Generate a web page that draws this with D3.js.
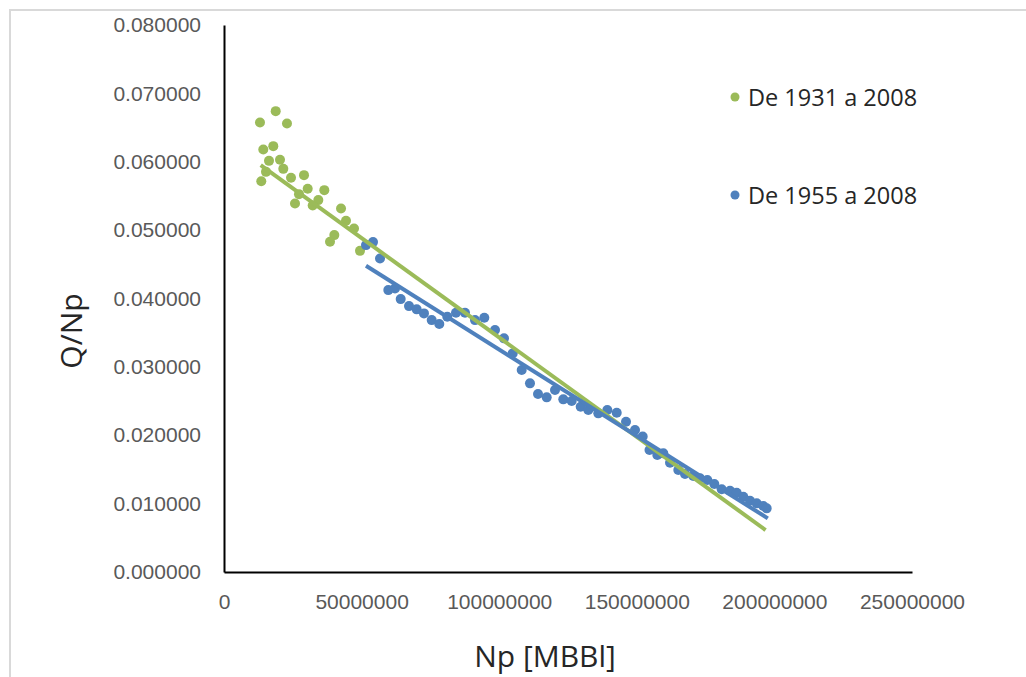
<!DOCTYPE html>
<html>
<head>
<meta charset="utf-8">
<script src="https://cdn.jsdelivr.net/npm/d3@7"></script>
<style>
  html, body { margin: 0; padding: 0; background: #fff; }
  svg { display: block; font-family: "Open Sans", "Liberation Sans", sans-serif; }
  .tick-label { fill: #595959; font-size: 21px; }
  .axis-title { fill: #262626; font-size: 30px; }
  .legend-label { fill: #262626; font-size: 23.5px; }
</style>
</head>
<body>
<svg id="chart" width="1026" height="677"></svg>
<script>
// Series 1931-2008 (visible green points): [Np, Q/Np]
const green1931 = [
  [13.08e6, 0.06575], [18.79e6, 0.06740], [22.89e6, 0.06560], [14.28e6, 0.06180],
  [17.91e6, 0.06228], [16.35e6, 0.06013], [20.35e6, 0.06028], [21.55e6, 0.05896],
  [15.26e6, 0.05852], [13.55e6, 0.05716], [24.35e6, 0.05765], [29.07e6, 0.05804],
  [30.41e6, 0.05604], [36.45e6, 0.05585], [27.25e6, 0.05526], [25.80e6, 0.05390],
  [34.27e6, 0.05439], [32.23e6, 0.05361], [42.52e6, 0.05317], [44.33e6, 0.05136],
  [47.24e6, 0.05025], [40.08e6, 0.04927], [38.52e6, 0.04829], [49.42e6, 0.04697]
];

// Series 1955-2008 (blue points)
const blue1955 = [
  [51.60e6, 0.04781], [54.14e6, 0.04825], [56.69e6, 0.04586], [59.70e6, 0.04123],
  [62.14e6, 0.04148], [64.21e6, 0.03991], [67.22e6, 0.03889], [70.02e6, 0.03841],
  [72.67e6, 0.03782], [75.47e6, 0.03684], [78.23e6, 0.03626], [81.14e6, 0.03732],
  [84.30e6, 0.03791], [87.57e6, 0.03791], [91.21e6, 0.03684], [94.59e6, 0.03718],
  [98.47e6, 0.03538], [101.74e6, 0.03417], [104.91e6, 0.03197], [108.18e6, 0.02953],
  [111.19e6, 0.02759], [114.10e6, 0.02602], [117.26e6, 0.02554], [120.28e6, 0.02661],
  [123.29e6, 0.02525], [126.34e6, 0.02500], [129.62e6, 0.02417], [132.38e6, 0.02368],
  [136.01e6, 0.02320], [139.28e6, 0.02368], [142.70e6, 0.02329], [146.08e6, 0.02197],
  [149.35e6, 0.02076], [152.14e6, 0.01981], [154.62e6, 0.01784], [157.45e6, 0.01711],
  [159.63e6, 0.01735], [162.07e6, 0.01598], [165.08e6, 0.01491], [167.52e6, 0.01433],
  [170.53e6, 0.01404], [172.97e6, 0.01370], [175.62e6, 0.01345], [178.17e6, 0.01287],
  [180.85e6, 0.01209], [183.87e6, 0.01189], [186.30e6, 0.01159], [188.70e6, 0.01101],
  [191.13e6, 0.01042], [193.57e6, 0.01004], [195.97e6, 0.00965], [197.20e6, 0.00931]
];

// Linear trendlines (start, end)
const greenTrend = [[13.34e6, 0.05950], [196.8e6, 0.00614]];
const blueTrend = [[51.6e6, 0.04478], [197.6e6, 0.00785]];

const xTicks = [0, 50000000, 100000000, 150000000, 200000000, 250000000];
const yTicks = [0, 0.01, 0.02, 0.03, 0.04, 0.05, 0.06, 0.07, 0.08];

const seriesNames = ["De 1931 a 2008", "De 1955 a 2008"];
const colors = ["#9bbb59", "#4f81bd"];

const svg = d3.select("#chart");

// outer frame
svg.append("rect")
  .attr("x", 10).attr("y", 10)
  .attr("width", 1030).attr("height", 700)
  .attr("fill", "none")
  .attr("stroke", "#d9d9d9")
  .attr("stroke-width", 2);

const x = d3.scaleLinear().domain([0, 250000000]).range([224, 912]);
const y = d3.scaleLinear().domain([0, 0.08]).range([572, 25]);

// Axes
const xAxis = svg.append("g")
  .attr("transform", `translate(0,${y(0)})`)
  .call(d3.axisBottom(x).tickValues(xTicks).tickSize(0).tickPadding(22).tickFormat(d3.format("d")));
xAxis.select(".domain").attr("stroke", "#000").attr("stroke-width", 2);
xAxis.selectAll("text").attr("class", "tick-label").attr("font-family", null).attr("font-size", null);

const yAxis = svg.append("g")
  .attr("transform", `translate(${x(0)},0)`)
  .call(d3.axisLeft(y).tickValues(yTicks).tickSize(0).tickPadding(23).tickFormat(d3.format(".6f")));
yAxis.select(".domain").attr("stroke", "#000").attr("stroke-width", 2);
yAxis.selectAll("text").attr("class", "tick-label").attr("font-family", null).attr("font-size", null);

// Points
const plot = svg.append("g");
plot.selectAll(".g-dot")
  .data(green1931)
  .join("circle")
  .attr("cx", d => x(d[0]))
  .attr("cy", d => y(d[1]))
  .attr("r", 5)
  .attr("fill", colors[0]);

plot.selectAll(".b-dot")
  .data(blue1955)
  .join("circle")
  .attr("cx", d => x(d[0]))
  .attr("cy", d => y(d[1]))
  .attr("r", 5)
  .attr("fill", colors[1]);

// Trendlines
const line = d3.line().x(d => x(d[0])).y(d => y(d[1]));
svg.append("path")
  .attr("d", line(greenTrend))
  .attr("stroke", colors[0])
  .attr("stroke-width", 4)
  .attr("fill", "none");
svg.append("path")
  .attr("d", line(blueTrend))
  .attr("stroke", colors[1])
  .attr("stroke-width", 4)
  .attr("fill", "none");

// Axis titles
svg.append("text")
  .attr("class", "axis-title")
  .attr("x", 545).attr("y", 655)
  .attr("text-anchor", "middle")
  .attr("dominant-baseline", "central")
  .text("Np [MBBl]");

svg.append("text")
  .attr("class", "axis-title")
  .attr("transform", "translate(70,331) rotate(-90)")
  .attr("text-anchor", "middle")
  .attr("dominant-baseline", "central")
  .text("Q/Np");

// Legend
const legend = svg.append("g");
seriesNames.forEach((name, i) => {
  const ly = 97 + i * 98;
  legend.append("circle")
    .attr("cx", 735).attr("cy", ly).attr("r", 4.5)
    .attr("fill", colors[i]);
  legend.append("text")
    .attr("class", "legend-label")
    .attr("x", 748).attr("y", ly)
    .attr("dominant-baseline", "central")
    .text(name);
});
</script>
</body>
</html>
